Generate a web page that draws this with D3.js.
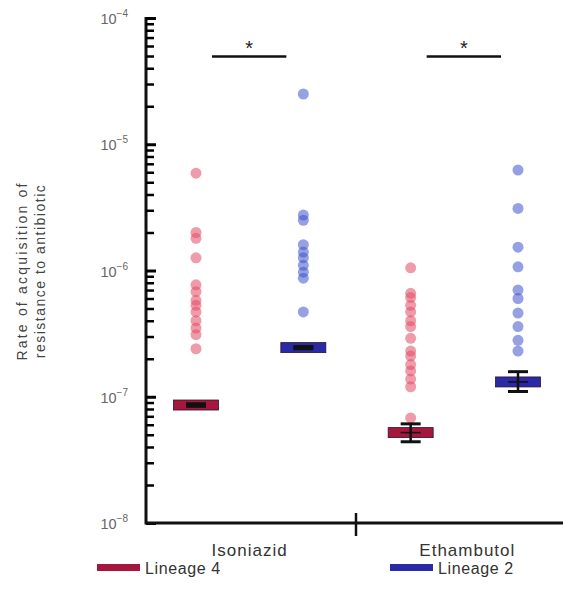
<!DOCTYPE html>
<html>
<head>
<meta charset="utf-8">
<script src="https://cdn.jsdelivr.net/npm/d3@7"></script>
<style>
  body { margin: 0; background: #fff; }
  svg { font-family: "Liberation Sans", Arial, sans-serif; }
</style>
</head>
<body>
<svg id="chart" width="563" height="603"></svg>
<script>
const drugs = ["Isoniazid", "Ethambutol"];
const lineages = ["Lineage 4", "Lineage 2"];
const tickExps = [-8, -7, -6, -5, -4];

// individual rates
const isoL4 = [5.9e-6, 2.0e-6, 1.8e-6, 1.26e-6, 7.7e-7, 6.8e-7, 5.8e-7, 5.3e-7, 4.7e-7, 4.0e-7, 3.5e-7, 3.1e-7, 2.4e-7];
const isoL2 = [2.5e-5, 2.75e-6, 2.5e-6, 1.6e-6, 1.4e-6, 1.26e-6, 1.1e-6, 9.7e-7, 8.7e-7, 4.7e-7];
const embL4 = [1.05e-6, 6.6e-7, 6.1e-7, 5.3e-7, 4.7e-7, 4.0e-7, 3.6e-7, 2.9e-7, 2.3e-7, 2.1e-7, 1.8e-7, 1.6e-7, 1.38e-7, 1.2e-7, 6.8e-8];
const embL2 = [6.25e-6, 3.1e-6, 1.53e-6, 1.07e-6, 7.0e-7, 6.0e-7, 4.6e-7, 3.6e-7, 2.8e-7, 2.3e-7];

// medians with error range [lo, hi]
const medians = [
  { drug: "Isoniazid", lin: "Lineage 4", v: 8.6e-8, lo: 8.4e-8, hi: 8.8e-8 },
  { drug: "Isoniazid", lin: "Lineage 2", v: 2.45e-7, lo: 2.4e-7, hi: 2.5e-7 },
  { drug: "Ethambutol", lin: "Lineage 4", v: 5.2e-8, lo: 4.4e-8, hi: 6.1e-8 },
  { drug: "Ethambutol", lin: "Lineage 2", v: 1.31e-7, lo: 1.1e-7, hi: 1.58e-7 }
];

const groups = [
  { drug: "Isoniazid", lin: "Lineage 4", vals: isoL4 },
  { drug: "Isoniazid", lin: "Lineage 2", vals: isoL2 },
  { drug: "Ethambutol", lin: "Lineage 4", vals: embL4 },
  { drug: "Ethambutol", lin: "Lineage 2", vals: embL2 }
];

const ptColor = { "Lineage 4": "#e14a64", "Lineage 2": "#3f53cc" };
const barColor = { "Lineage 4": "#a5173d", "Lineage 2": "#2a2aa6" };

const svg = d3.select("#chart");
const mLeft = 146, mRight = 563, mTop = 18, mBottom = 523;

const y = d3.scaleLog().domain([1e-8, 1e-4]).range([mBottom, mTop]);
const keys = groups.map(gr => gr.drug + "|" + gr.lin);
const xs = d3.scalePoint().domain(keys).range([196, 518]);
const cx = (drug, lin) => xs(drug + "|" + lin);
const drugMid = d => (cx(d, lineages[0]) + cx(d, lineages[1])) / 2;

// y axis: minor + major ticks pointing inwards
const minor = [];
tickExps.slice(0, -1).forEach(e => {
  for (let k = 2; k <= 9; k++) minor.push(k * Math.pow(10, e));
});
const majors = tickExps.map(e => Math.pow(10, e));

svg.append("line").attr("x1", mLeft).attr("x2", mLeft)
  .attr("y1", mTop - 1).attr("y2", mBottom + 1.5)
  .attr("stroke", "#111").attr("stroke-width", 3);

const gMinor = svg.append("g").attr("transform", `translate(${mLeft},0)`)
  .call(d3.axisRight(y).tickValues(minor).tickSize(8).tickFormat(""));
const gMajor = svg.append("g").attr("transform", `translate(${mLeft},0)`)
  .call(d3.axisRight(y).tickValues(majors).tickSize(10).tickFormat(""));
[gMinor, gMajor].forEach(ga => {
  ga.select(".domain").remove();
  ga.selectAll(".tick line").attr("stroke", "#000");
});
gMinor.selectAll(".tick line").attr("stroke-width", 2.5);
gMajor.selectAll(".tick line").attr("stroke-width", 3);

tickExps.forEach(e => {
  const t = svg.append("text").attr("x", 128).attr("y", y(Math.pow(10, e)) + 6)
    .attr("text-anchor", "end").attr("fill", "#666").attr("font-size", 14.5);
  t.append("tspan").text("10");
  t.append("tspan").attr("dy", -7).attr("font-size", 10).text("\u2212" + Math.abs(e));
});

// x axis
svg.append("line").attr("x1", mLeft).attr("x2", mRight)
  .attr("y1", mBottom).attr("y2", mBottom)
  .attr("stroke", "#111").attr("stroke-width", 3);
const sepX = (cx(drugs[0], lineages[1]) + cx(drugs[1], lineages[0])) / 2 - 1;
svg.append("line").attr("x1", sepX).attr("x2", sepX)
  .attr("y1", mBottom - 10).attr("y2", mBottom + 13)
  .attr("stroke", "#111").attr("stroke-width", 2.5);
svg.selectAll(".xl").data(drugs).join("text")
  .attr("class", "xl")
  .attr("x", (d, i) => drugMid(d) + (i ? 3 : 0))
  .attr("y", 556).attr("text-anchor", "middle")
  .attr("fill", "#333").attr("font-size", 17).attr("letter-spacing", 1).text(d => d);

// y title
const yt = svg.append("text").attr("transform", "translate(27,271) rotate(-90)")
  .attr("text-anchor", "middle").attr("fill", "#444").attr("font-size", 14)
  .attr("letter-spacing", 2.2);
yt.append("tspan").attr("x", 0).attr("dy", 0).text("Rate of acquisition of");
yt.append("tspan").attr("x", 0).attr("dy", 18).attr("letter-spacing", 1.5).text("resistance to antibiotic");

// points
groups.forEach(gr => {
  svg.append("g").selectAll("circle").data(gr.vals).join("circle")
    .attr("cx", cx(gr.drug, gr.lin)).attr("cy", d => y(d)).attr("r", 5.5)
    .attr("fill", ptColor[gr.lin]).attr("fill-opacity", 0.55);
});

// medians + error bars
const mg = svg.append("g");
medians.forEach(m => {
  const c = cx(m.drug, m.lin);
  mg.append("rect").attr("x", c - 22.5).attr("y", y(m.v) - 5)
    .attr("width", 45).attr("height", 10)
    .attr("fill", barColor[m.lin]).attr("stroke", "#301030").attr("stroke-width", 0.8);
  mg.append("line").attr("x1", c - 10).attr("x2", c + 10)
    .attr("y1", y(m.v)).attr("y2", y(m.v)).attr("stroke", "#111").attr("stroke-width", 1.5);
  [m.lo, m.hi].forEach(v => mg.append("line")
    .attr("x1", c - 10).attr("x2", c + 10).attr("y1", y(v)).attr("y2", y(v))
    .attr("stroke", "#111").attr("stroke-width", 3));
  mg.append("line").attr("x1", c).attr("x2", c)
    .attr("y1", y(m.lo)).attr("y2", y(m.hi)).attr("stroke", "#111").attr("stroke-width", 2.5);
});

// significance
drugs.forEach(d => {
  const a = cx(d, lineages[0]) + 16, b = cx(d, lineages[1]) - 17;
  svg.append("line").attr("x1", a).attr("x2", b).attr("y1", 56.5).attr("y2", 56.5)
    .attr("stroke", "#111").attr("stroke-width", 2.4);
  svg.append("text").attr("x", (a + b) / 2).attr("y", 55)
    .attr("text-anchor", "middle").attr("font-size", 20).attr("fill", "#222").text("*");
});

// legend
const lg = svg.append("g");
[{ lin: "Lineage 4", x: 97 }, { lin: "Lineage 2", x: 390 }].forEach(l => {
  lg.append("rect").attr("x", l.x).attr("y", 564).attr("width", 43).attr("height", 7)
    .attr("fill", barColor[l.lin]);
  lg.append("text").attr("x", l.x + 48).attr("y", 574).attr("font-size", 16)
    .attr("letter-spacing", 0.6).attr("fill", "#333").text(l.lin);
});
</script>
</body>
</html>
